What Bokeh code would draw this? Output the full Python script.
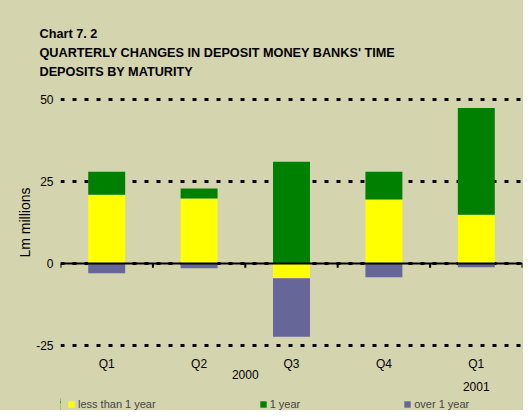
from bokeh.plotting import figure
from bokeh.layouts import column
from bokeh.models import Range1d, FixedTicker, Legend, LegendItem, Span, ColumnDataSource
from bokeh.embed import file_html
from bokeh.resources import INLINE

# ---- data ----
quarters = ["Q1", "Q2", "Q3", "Q4", "Q1"]
year_labels = ["2000", "2001"]
year_first_idx = [0, 4]
year_last_idx = [3, 4]
less_than_1_year = [21.0, 19.8, -4.5, 19.5, 14.9]
one_year = [7.0, 3.1, 31.1, 8.5, 32.6]
over_1_year = [-3.0, -1.5, -17.9, -4.2, -1.2]
series_names = ["less than 1 year", "1 year", "over 1 year"]
y_ticks = [-25, 0, 25, 50]
title_lines = ["Chart 7. 2", "QUARTERLY CHANGES IN DEPOSIT MONEY BANKS' TIME", "DEPOSITS BY MATURITY"]

BG = "#D4D4AF"
colors = ["#FFFF00", "#008000", "#666699"]
FONT = "Liberation Sans"

n = len(quarters)
centers = [i + 0.5 for i in range(n)]

p = figure(frame_width=462, frame_height=252, output_backend="svg", toolbar_location=None,
           x_range=Range1d(0, n), y_range=Range1d(-26, 51),
           min_border_left=60, min_border_right=1, min_border_top=96, min_border_bottom=0)
p.background_fill_color = BG
p.border_fill_color = BG
p.outline_line_color = None

# title
p.title.text = "\n".join(title_lines)
p.title.align = "left"
p.title.offset = -21
p.title.text_font = FONT
p.title.text_font_size = "12.7px"
p.title.text_font_style = "bold"
p.title.text_line_height = 1.35
p.title.text_color = "black"
p.title.standoff = 35

# grid
p.xgrid.visible = False
p.ygrid.ticker = FixedTicker(ticks=y_ticks)
p.ygrid.grid_line_color = "black"
p.ygrid.grid_line_width = 3
p.ygrid.grid_line_dash = "4 8"

# y axis
p.yaxis.ticker = FixedTicker(ticks=y_ticks)
p.yaxis.major_label_overrides = {t: str(t) for t in y_ticks}
p.yaxis.axis_line_color = None
p.yaxis.major_tick_line_color = None
p.yaxis.minor_tick_line_color = None
p.yaxis.major_tick_out = 0
p.yaxis.major_tick_in = 0
p.yaxis.minor_tick_out = 0
p.yaxis.major_label_standoff = 7
p.yaxis.major_label_text_font = FONT
p.yaxis.major_label_text_font_size = "12px"
p.yaxis.major_label_text_color = "black"
p.yaxis.axis_label = "Lm millions"
p.yaxis.axis_label_text_font = FONT
p.yaxis.axis_label_text_font_size = "14px"
p.yaxis.axis_label_text_font_style = "normal"
p.yaxis.axis_label_text_color = "black"
p.yaxis.axis_label_standoff = 0

# x axis: quarter labels, with year labels on extra lines
labels = {c: q for c, q in zip(centers, quarters)}
for lab, a, b in zip(year_labels, year_first_idx, year_last_idx):
    xp = (a + b + 1) / 2
    if xp in labels:
        labels[xp] = labels[xp] + "\n\n" + lab
    else:
        labels[xp] = "\n" + lab
xt = sorted(labels)
ax = p.xaxis[0]
ax.ticker = FixedTicker(ticks=xt)
ax.major_label_overrides = labels
ax.axis_line_color = None
ax.major_tick_line_color = None
ax.minor_tick_line_color = None
ax.major_tick_out = 0
ax.major_tick_in = 0
ax.minor_tick_out = 0
ax.major_label_standoff = 8
ax.major_label_text_font = FONT
ax.major_label_text_font_size = "12px"
ax.major_label_text_line_height = 0.85
ax.major_label_text_color = "black"

# stacked bars (positive and negative parts stacked separately)
pos = [0.0] * n
neg = [0.0] * n
sources = []
for vals in [less_than_1_year, one_year, over_1_year]:
    bottoms, tops = [], []
    for i, v in enumerate(vals):
        if v >= 0:
            bottoms.append(pos[i]); tops.append(pos[i] + v); pos[i] += v
        else:
            bottoms.append(neg[i] + v); tops.append(neg[i]); neg[i] += v
    src = ColumnDataSource(dict(x=centers, bottom=bottoms, top=tops))
    sources.append(src)
    p.vbar(x="x", bottom="bottom", top="top", width=0.4, source=src,
           fill_color=colors[len(sources) - 1], line_color=None)

# zero axis line with category boundary ticks
p.add_layout(Span(location=0, dimension="width", line_color="black", line_width=2, level="overlay"))
bounds = list(range(n + 1))
p.segment(x0=bounds, y0=[0] * len(bounds), x1=bounds, y1=[-1.3] * len(bounds),
          line_color="black", line_width=2)

# legend strip (separate small figure below the chart; its bars lie outside its view)
pl = figure(width=523, height=13, output_backend="svg", toolbar_location=None,
            x_range=Range1d(n + 1, n + 2), y_range=Range1d(-26, 51),
            min_border_left=0, min_border_right=0, min_border_top=0, min_border_bottom=0,
            x_axis_location=None, y_axis_location=None)
pl.background_fill_color = BG
pl.border_fill_color = BG
pl.outline_line_color = None
pl.grid.visible = False
leg_renderers = [pl.vbar(x="x", bottom="bottom", top="top", width=0.4, source=s,
                         fill_color=c, line_color=None) for s, c in zip(sources, colors)]
legend = Legend(items=[LegendItem(label=nm, renderers=[r]) for nm, r in zip(series_names, leg_renderers)],
                orientation="horizontal", location=(7, 0), padding=0, margin=0,
                spacing=103, glyph_width=8, glyph_height=8, label_standoff=3,
                label_height=13, label_text_font=FONT, label_text_font_size="11px",
                background_fill_alpha=0, border_line_alpha=0)
pl.add_layout(legend, "center")

layout = column(p, pl, spacing=0, styles={"background-color": BG})
open("out.html", "w").write(file_html(layout, INLINE))
